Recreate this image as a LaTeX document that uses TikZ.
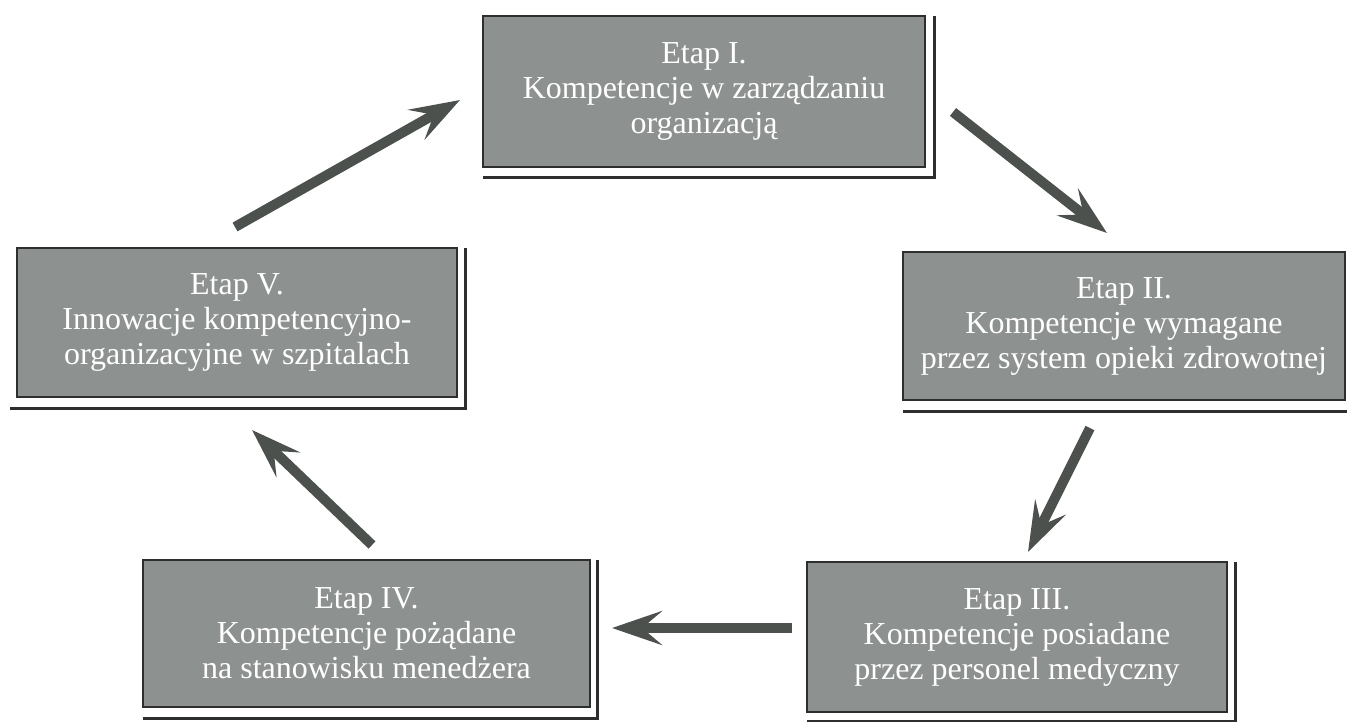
\documentclass[tikz,border=0pt]{standalone}
\usepackage{fontspec}
\setmainfont{Liberation Serif}
\usetikzlibrary{arrows.meta}
\definecolor{boxgray}{HTML}{8D9190}
\definecolor{boxline}{HTML}{2E2E2E}
\definecolor{arrgray}{HTML}{4C514E}
\tikzset{
  stagebox/.style={draw=boxline, line width=1.2pt, fill=boxgray, text=white,
    inner sep=0pt, outer sep=0pt, align=center,
    font=\fontsize{32}{35}\selectfont},
  shd/.style={draw=boxline, line width=3pt},
  arr/.style={draw=arrgray, line width=10pt,
    -{Stealth[length=50pt,width=34pt,inset=20pt]}}
}
\begin{document}
\begin{tikzpicture}[x=1pt,y=-1pt]
\useasboundingbox (0,0) rectangle (1347,721);
% boxes
\node[stagebox, minimum width=442pt, minimum height=151pt] (b1) at (704,91.5)
  {Etap I.\\Kompetencje w zarządzaniu\\organizacją};
\node[stagebox, minimum width=442pt, minimum height=148pt] (b2) at (1124,326)
  {Etap II.\\Kompetencje wymagane\\przez system opieki zdrowotnej};
\node[stagebox, minimum width=420pt, minimum height=150pt] (b3) at (1017,637)
  {Etap III.\\Kompetencje posiadane\\przez personel medyczny};
\node[stagebox, minimum width=447pt, minimum height=147pt] (b4) at (366.5,633.5)
  {Etap IV.\\Kompetencje pożądane\\na stanowisku menedżera};
\node[stagebox, minimum width=440pt, minimum height=149pt] (b5) at (237,322.5)
  {Etap V.\\Innowacje kompetencyjno-\\organizacyjne w szpitalach};
% shadows
\draw[shd] ([yshift=-10pt]b1.south west) -| ([xshift=9pt]b1.north east);
\draw[shd] ([yshift=-11pt]b2.south west) -| ([xshift=9pt]b2.north east);
\draw[shd] ([yshift=-9pt]b3.south west) -| ([xshift=8pt]b3.north east);
\draw[shd] ([yshift=-11pt]b4.south west) -| ([xshift=7pt]b4.north east);
\draw[shd] ([yshift=-11pt,xshift=-7pt]b5.south west) -| ([xshift=8pt]b5.north east);
% arrow end points
\coordinate (t1) at (235,227);  \coordinate (h1) at (460,100);
\coordinate (t2) at (953,112);  \coordinate (h2) at (1107,233);
\coordinate (t3) at (1090,428); \coordinate (h3) at (1028,552);
\coordinate (t4) at (792,628);  \coordinate (h4) at (612,628);
\coordinate (t5) at (372,545);  \coordinate (h5) at (252,430);
\draw[arr] (t1) -- (h1);
\draw[arr] (t2) -- (h2);
\draw[arr] (t3) -- (h3);
\draw[arr] (t4) -- (h4);
\draw[arr] (t5) -- (h5);
\end{tikzpicture}
\end{document}
